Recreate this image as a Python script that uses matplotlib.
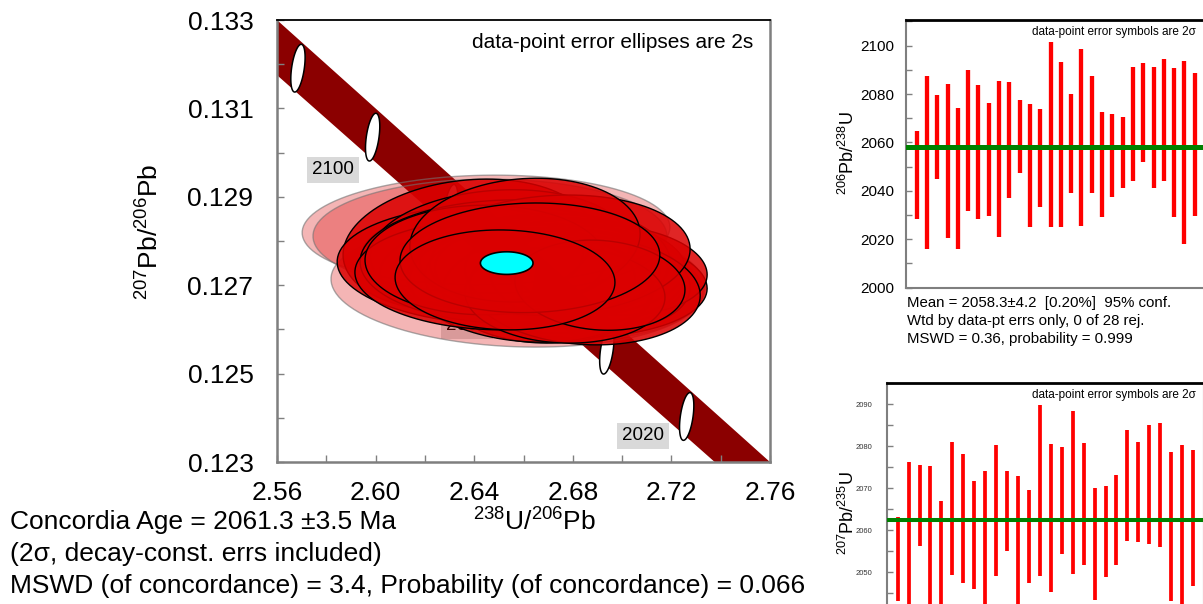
"""
Concordia diagram (Tera-Wasserburg) with two weighted-mean panels.
"""
#%% imports and fonts

import numpy as np
import matplotlib
matplotlib.use('Agg')
import matplotlib.pyplot as plt
from matplotlib.ticker import MultipleLocator, FormatStrFormatter

plt.rcParams['font.family'] = ['Liberation Sans', 'DejaVu Sans']
plt.rcParams['mathtext.fontset'] = 'custom'
plt.rcParams['mathtext.rm'] = 'Liberation Sans'
plt.rcParams['mathtext.it'] = 'Liberation Sans:italic'
plt.rcParams['mathtext.default'] = 'regular'

#%% data

# concordia band (decay-constant error envelope), edges
band_x  = [2.54, 2.78]
band_hi = [0.13400, 0.12200]
band_lo = [0.13274, 0.12091]

# age markers on the concordia
conc_age = [2120, 2100, 2080, 2060, 2040, 2020]
conc_x   = [2.5685, 2.5988, 2.6305, 2.6621, 2.6938, 2.7262]
conc_y   = [0.13191, 0.13035, 0.12874, 0.12714, 0.12553, 0.12403]

# age labels
lab_txt = ['2100', '2060', '2020']
lab_x   = [2.5827, 2.6371, 2.7085]
lab_y   = [0.12961, 0.12608, 0.12359]

# axis ticks
x_major = [2.56, 2.60, 2.64, 2.68, 2.72, 2.76]
y_major = [0.123, 0.125, 0.127, 0.129, 0.131, 0.133]

# data-point ellipses: 238U/206Pb, 2s err, 207Pb/206Pb, 2s err, rho
ell_x  = [2.6375, 2.6391, 2.6513, 2.6736, 2.6699, 2.6667, 2.6586, 2.6809,
          2.6748, 2.6626, 2.6870, 2.6505, 2.6566, 2.6687, 2.6951, 2.6484,
          2.6850, 2.6728, 2.6444, 2.6768, 2.6606, 2.6910, 2.6626, 2.6525]
ell_sx = [0.0507, 0.0450, 0.0669, 0.0609, 0.0426, 0.0588, 0.0568, 0.0446,
          0.0507, 0.0487, 0.0406, 0.0527, 0.0629, 0.0467, 0.0394, 0.0568,
          0.0467, 0.0548, 0.0487, 0.0406, 0.0467, 0.0345, 0.0527, 0.0446]
ell_y  = [0.12791, 0.12766, 0.12746, 0.12705, 0.12689, 0.12723, 0.12734, 0.12730,
          0.12739, 0.12700, 0.12712, 0.12780, 0.12753, 0.12753, 0.12734, 0.12723,
          0.12689, 0.12768, 0.12757, 0.12678, 0.12802, 0.12700, 0.12762, 0.12712]
ell_sy = [0.00149, 0.00111, 0.00136, 0.00124, 0.00120, 0.00131, 0.00118, 0.00118,
          0.00113, 0.00129, 0.00113, 0.00136, 0.00140, 0.00109, 0.00102, 0.00124,
          0.00124, 0.00136, 0.00124, 0.00109, 0.00140, 0.00102, 0.00124, 0.00113]
ell_rho = [0.15, 0.05, -0.05, -0.1, 0.0, -0.1, 0.05, -0.05,
           0.0, -0.1, -0.15, 0.1, 0.0, 0.05, -0.1, -0.05,
           -0.1, 0.1, 0.0, -0.05, 0.1, -0.1, 0.05, -0.05]

# faint (transparent) ellipses
pale_x   = [2.6448, 2.6464, 2.6574, 2.6768]
pale_sx  = [0.0746, 0.0718, 0.0755, 0.0568]
pale_y   = [0.12825, 0.12811, 0.12700, 0.12707]
pale_sy  = [0.00124, 0.00129, 0.00140, 0.00131]
pale_rho = [0.05, 0.0, -0.1, -0.1]

# concordia age ellipse
conc_age_x, conc_age_sx = 2.65319, 0.01067
conc_age_y, conc_age_sy = 0.12750, 0.000256

# weighted mean 206Pb/238U ages (2 sigma bars)
pb206_hi = [2064.9, 2087.6, 2079.6, 2084.2, 2074.1, 2089.9, 2083.7, 2076.4,
            2085.5, 2085.0, 2077.5, 2075.8, 2073.7, 2101.7, 2093.1, 2080.0,
            2098.8, 2087.5, 2072.5, 2071.9, 2070.7, 2091.0, 2092.7, 2091.3,
            2094.6, 2090.8, 2093.8, 2088.6]
pb206_lo = [2028.2, 2015.8, 2044.8, 2020.4, 2015.8, 2031.8, 2028.2, 2029.6,
            2021.1, 2036.9, 2047.5, 2025.2, 2033.5, 2025.2, 2025.2, 2039.3,
            2025.5, 2039.3, 2029.1, 2037.3, 2041.3, 2044.2, 2051.8, 2041.0,
            2043.9, 2029.1, 2017.9, 2029.8]
pb206_mean = 2058.3
pb206_ticks = [2000, 2020, 2040, 2060, 2080, 2100]

# weighted mean 207Pb/235U ages (2 sigma bars)
pb207_hi = [2063.0, 2076.1, 2075.6, 2075.2, 2067.0, 2080.9, 2078.1, 2071.6,
            2074.0, 2080.3, 2074.0, 2072.9, 2069.6, 2089.7, 2080.6, 2079.9,
            2088.4, 2080.7, 2070.0, 2070.6, 2073.1, 2083.9, 2081.0, 2085.1,
            2085.5, 2078.7, 2080.3, 2079.1]
pb207_lo = [2043.2, 2040.0, 2056.1, 2039.5, 2036.0, 2049.4, 2047.4, 2046.0,
            2041.0, 2049.1, 2054.9, 2039.0, 2047.5, 2049.1, 2045.2, 2054.4,
            2049.6, 2051.6, 2043.4, 2048.8, 2051.7, 2057.3, 2057.1, 2056.7,
            2055.9, 2043.2, 2041.0, 2046.7]
pb207_mean = 2062.4
pb207_ticks = [2050, 2060, 2070, 2080, 2090]

#%% helpers

W, H = 1203.0, 604.0

def px_box(l, t, r, b):
    # axes rectangle from pixel edges
    return [l / W, 1 - b / H, (r - l) / W, (b - t) / H]

def ell_xy(cx, cy, sx, sy, rho, n=120):
    t = np.linspace(0, 2 * np.pi, n)
    x = cx + sx * np.cos(t)
    y = cy + sy * (rho * np.cos(t) + np.sqrt(1 - rho**2) * np.sin(t))
    return x, y

#%% figure

fig = plt.figure(figsize=(12.03, 6.04), dpi=100)

# ---- main concordia plot
ax = fig.add_axes(px_box(277, 20, 770, 462))

ax.fill_between(band_x, band_lo, band_hi, color='#8b0000', lw=0, zorder=1)

for cx, cy in zip(conc_x, conc_y):
    x, y = ell_xy(cx, cy, 0.0029, 0.00054, 0.45)
    ax.fill(x, y, fc='white', ec='black', lw=1.1, zorder=2)

for tx, lx, ly in zip(lab_txt, lab_x, lab_y):
    ax.text(lx, ly, tx, fontsize=13.5, ha='center', va='center', zorder=2.5,
            bbox=dict(boxstyle='square,pad=0.25', fc='#d9d9d9', ec='none'))

for i in range(len(pale_x)):
    x, y = ell_xy(pale_x[i], pale_y[i], pale_sx[i], pale_sy[i], pale_rho[i])
    ax.fill(x, y, fc=(0.86, 0.0, 0.0, 0.29), ec=(0.45, 0.45, 0.45, 0.6),
            lw=1, zorder=3)

for i in range(len(ell_x)):
    x, y = ell_xy(ell_x[i], ell_y[i], ell_sx[i], ell_sy[i], ell_rho[i])
    ax.fill(x, y, fc=(0.86, 0.0, 0.0, 0.85), ec='black', lw=1.0, zorder=4)

x, y = ell_xy(conc_age_x, conc_age_y, conc_age_sx, conc_age_sy, 0.0)
ax.fill(x, y, fc='#00ffff', ec='black', lw=1.2, zorder=6)

ax.text(0.9655, 0.948, 'data-point error ellipses are 2s', transform=ax.transAxes,
        fontsize=15, ha='right', va='center', zorder=7)

ax.set_xlim(2.56, 2.76)
ax.set_ylim(0.123, 0.133)
ax.set_xticks(x_major)
ax.set_yticks(y_major)
ax.xaxis.set_minor_locator(MultipleLocator(0.02))
ax.yaxis.set_minor_locator(MultipleLocator(0.001))
ax.xaxis.set_major_formatter(FormatStrFormatter('%.2f'))
ax.yaxis.set_major_formatter(FormatStrFormatter('%.3f'))
ax.tick_params(which='both', direction='in', length=5, width=1, color='#808080',
               top=False, right=False)
ax.tick_params(axis='x', labelsize=19, pad=14)
ax.tick_params(axis='y', labelsize=19, pad=17)
for s in ['left', 'bottom', 'right']:
    ax.spines[s].set_color('#7f7f7f')
    ax.spines[s].set_linewidth(1.8)
ax.spines['top'].set_color('black')
ax.spines['top'].set_linewidth(1.3)

fig.text(535 / W, 1 - 522 / H, r'$^{238}$U/$^{206}$Pb', fontsize=19,
         ha='center', va='center')
fig.text(150 / W, 1 - 232 / H, r'$^{207}$Pb/$^{206}$Pb', fontsize=19,
         ha='center', va='center', rotation=90)

fig.text(10 / W, 1 - 522 / H, 'Concordia Age = 2061.3 \u00b13.5 Ma', fontsize=19,
         ha='left', va='center')
fig.text(10 / W, 1 - 554 / H, '(2\u03c3, decay-const. errs included)', fontsize=19,
         ha='left', va='center')
fig.text(10 / W, 1 - 586 / H,
         'MSWD (of concordance) = 3.4, Probability (of concordance) = 0.066',
         fontsize=19, ha='left', va='center')

# ---- weighted mean panels
idx = np.arange(1, len(pb206_hi) + 1)

def mean_panel(axm, lo, hi, mean, bar_lw, mean_lw):
    axm.vlines(idx, lo, hi, color='#ff0000', lw=bar_lw, zorder=2)
    axm.axhline(mean, color='#008000', lw=mean_lw, zorder=3)
    axm.set_xlim(0, len(lo) + 1)
    axm.set_xticks([])
    axm.tick_params(which='both', direction='in', length=4, width=1,
                    color='#808080', right=False)
    for s in ['left', 'bottom', 'right']:
        axm.spines[s].set_color('#7f7f7f')
        axm.spines[s].set_linewidth(1.5)
    axm.spines['top'].set_color('black')
    axm.spines['top'].set_linewidth(2)

ax1 = fig.add_axes(px_box(906.4, 20, 1205, 287.7))
mean_panel(ax1, pb206_lo, pb206_hi, pb206_mean, 3.1, 3.6)
ax1.set_ylim(2000, 2110.6)
ax1.set_yticks(pb206_ticks)
ax1.yaxis.set_minor_locator(MultipleLocator(10))
ax1.tick_params(axis='y', labelsize=11, pad=9)
fig.text(1032 / W, 1 - 32 / H, 'data-point error symbols are 2\u03c3',
         fontsize=8.5, ha='left', va='center')
fig.text(848 / W, 1 - 153 / H, r'$^{206}$Pb/$^{238}$U', fontsize=13,
         ha='center', va='center', rotation=90)

fig.text(907 / W, 1 - 303 / H, 'Mean = 2058.3\u00b14.2  [0.20%]  95% conf.',
         fontsize=10.8, ha='left', va='center')
fig.text(907 / W, 1 - 321 / H, 'Wtd by data-pt errs only, 0 of 28 rej.',
         fontsize=10.8, ha='left', va='center')
fig.text(907 / W, 1 - 339 / H, 'MSWD = 0.36, probability = 0.999',
         fontsize=10.8, ha='left', va='center')

ax2 = fig.add_axes(px_box(886.7, 382.7, 1204, 656))
mean_panel(ax2, pb207_lo, pb207_hi, pb207_mean, 2.7, 2.9)
ax2.set_ylim(2030, 2095.1)
ax2.set_yticks(pb207_ticks)
ax2.yaxis.set_minor_locator(MultipleLocator(5))
ax2.tick_params(axis='y', labelsize=5.5, pad=10, labelcolor='#333333')
fig.text(1032 / W, 1 - 395 / H, 'data-point error symbols are 2\u03c3',
         fontsize=8.5, ha='left', va='center')
fig.text(848 / W, 1 - 513 / H, r'$^{207}$Pb/$^{235}$U', fontsize=13,
         ha='center', va='center', rotation=90)

fig.savefig('out.png', dpi=100)
